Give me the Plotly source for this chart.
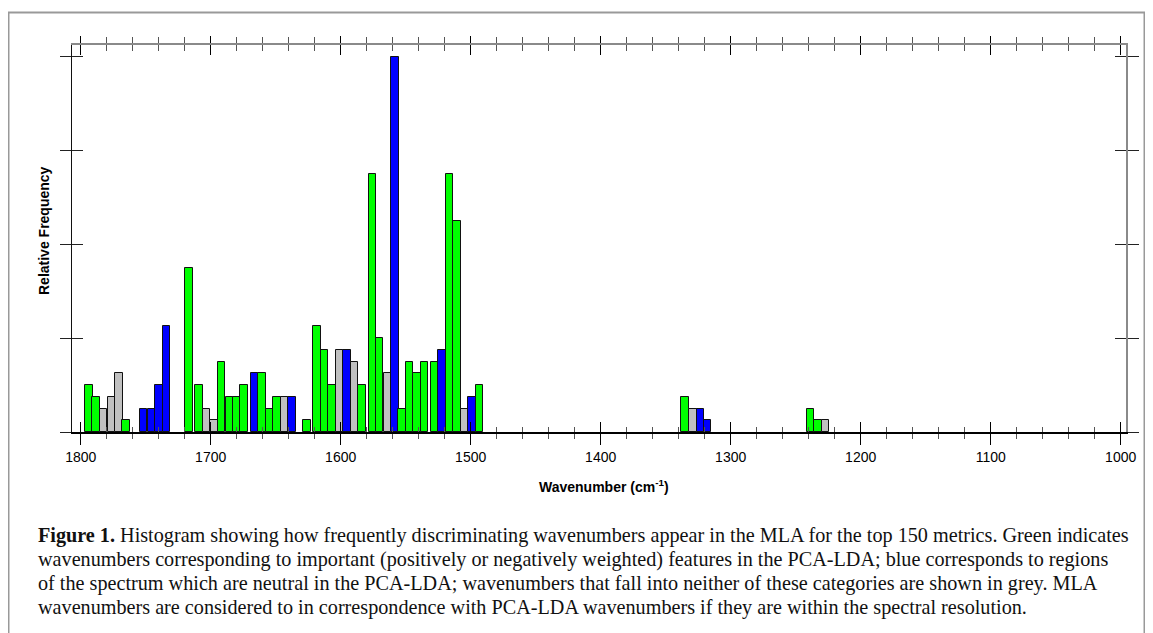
import plotly.graph_objects as go

# ---------------- data ----------------
wavenumber = [1793.8, 1788.1, 1782.3, 1776.5, 1770.7, 1765.0,
              1751.5, 1745.7, 1739.9, 1734.1,
              1716.8, 1709.1, 1703.4, 1697.6, 1691.7, 1685.7, 1680.0, 1674.4,
              1666.5, 1660.7, 1654.9, 1649.1, 1643.2, 1637.3,
              1626.1, 1618.4, 1612.4, 1606.7, 1600.9, 1595.1, 1589.4, 1583.6,
              1575.6, 1570.0, 1564.2, 1558.4,
              1552.8, 1547.1, 1541.3, 1535.5,
              1527.8, 1522.1, 1516.3, 1510.5, 1504.8, 1499.0, 1493.1,
              1335.0, 1329.1, 1323.4, 1317.7,
              1238.6, 1232.8, 1227.1]
frequency = [4, 3, 2, 3, 5, 1,
             2, 2, 4, 9,
             14, 4, 2, 1, 6, 3, 3, 4,
             5, 5, 2, 3, 3, 3,
             1, 9, 7, 4, 7, 7, 6, 4,
             22, 8, 5, 32,
             2, 6, 5, 6,
             6, 7, 22, 18, 2, 3, 4,
             3, 2, 2, 1,
             2, 1, 1]
category = ["G", "G", "N", "N", "N", "G",
            "B", "B", "B", "B",
            "G", "G", "N", "N", "G", "G", "G", "G",
            "B", "G", "G", "G", "N", "B",
            "G", "G", "G", "G", "N", "B", "N", "G",
            "G", "G", "N", "B",
            "G", "G", "G", "G",
            "G", "B", "G", "G", "N", "B", "G",
            "G", "N", "B", "B",
            "G", "G", "N"]
x_tick_values = [1800, 1700, 1600, 1500, 1400, 1300, 1200, 1100, 1000]
x_tick_labels = ["1800", "1700", "1600", "1500", "1400", "1300", "1200", "1100", "1000"]
y_tick_values = [0, 8, 16, 24, 32]

caption_lines = [
    "<b>Figure 1.</b> Histogram showing how frequently discriminating wavenumbers appear in the MLA for the top 150 metrics. Green indicates",
    "wavenumbers corresponding to important (positively or negatively weighted) features in the PCA-LDA; blue corresponds to regions",
    "of the spectrum which are neutral in the PCA-LDA; wavenumbers that fall into neither of these categories are shown in grey. MLA",
    "wavenumbers are considered to in correspondence with PCA-LDA wavenumbers if they are within the spectral resolution.",
]

# ---------------- layout geometry ----------------
# the html page body has an 8px margin, so the figure starts at (8, 8) on screen
OFF = 8
W, H = 1153 - OFF, 633 - OFF
L, R, T, B = 72 - OFF, 27, 45 - OFF, 201
PW, PH = W - L - R, H - T - B


def px_x(px):
    """screen pixel x -> paper coordinate"""
    return (px - OFF - L) / PW


def px_y(py):
    """screen pixel y -> paper coordinate"""
    return (H - B - (py - OFF)) / PH


color_map = {"G": "#00FF00", "B": "#0000FF", "N": "#C0C0C0"}
bar_colors = [color_map[c] for c in category]

X_RANGE = [1806.7, 995.9]
Y_RANGE = [0, 33]

fig = go.Figure()
fig.add_trace(go.Bar(
    x=wavenumber, y=frequency, width=5.75,
    marker=dict(color=bar_colors, line=dict(color="#111111", width=1)),
    showlegend=False, hoverinfo="x+y",
))

# invisible helper traces so the overlay axes get drawn
for xa, ya in [("x2", "y"), ("x3", "y"), ("x4", "y"), ("x", "y2"), ("x", "y3"), ("x", "y4")]:
    fig.add_trace(go.Scatter(x=[1400], y=[-10], mode="markers", marker=dict(opacity=0),
                             xaxis=xa, yaxis=ya, showlegend=False, hoverinfo="skip"))

tickfont = dict(family="Liberation Sans, Arial, sans-serif", size=14, color="#000000")


def xax(ticks, ticklen, minorlen, side, **kw):
    d = dict(range=X_RANGE, autorange=False, tickmode="array", tickvals=x_tick_values,
             ticktext=x_tick_labels, ticks=ticks, ticklen=ticklen, tickwidth=1,
             tickcolor="#000000", showgrid=False, zeroline=False, side=side,
             minor=dict(tick0=1000, dtick=20, ticks=ticks, ticklen=minorlen,
                        tickwidth=1, tickcolor="#555555", showgrid=False))
    d.update(kw)
    return d


def yax(ticks, ticklen, side, **kw):
    d = dict(range=Y_RANGE, autorange=False, tickmode="array", tickvals=y_tick_values,
             ticks=ticks, ticklen=ticklen, tickwidth=1, tickcolor="#222222",
             showgrid=False, zeroline=False, showticklabels=False, side=side)
    d.update(kw)
    return d


fig.update_layout(
    width=W, height=H,
    margin=dict(l=L, r=R, t=T, b=B, pad=0),
    paper_bgcolor="white", plot_bgcolor="white",
    bargap=0, barmode="overlay",
    xaxis=xax("outside", 11, 5, "bottom", showline=True, linecolor="#000000", linewidth=2,
              showticklabels=True, tickfont=tickfont, anchor="y"),
    xaxis2=xax("inside", 10, 5, "bottom", overlaying="x", anchor="y", showline=False,
               showticklabels=False),
    xaxis3=xax("outside", 7, 6, "top", overlaying="x", anchor="y", showline=True,
               linecolor="#8a8a8a", linewidth=1.5, showticklabels=False),
    xaxis4=xax("inside", 10, 6, "top", overlaying="x", anchor="y", showline=False,
               showticklabels=False),
    yaxis=yax("outside", 11, "left", showline=True, linecolor="#111111", linewidth=1, anchor="x"),
    yaxis2=yax("inside", 11, "left", overlaying="y", anchor="x", showline=False),
    yaxis3=yax("outside", 11, "right", overlaying="y", anchor="x", showline=True,
               linecolor="#8a8a8a", linewidth=1.5),
    yaxis4=yax("inside", 11, "right", overlaying="y", anchor="x", showline=False),
)

annotations = [
    dict(text="<b>Wavenumber (cm<sup>-1</sup>)</b>", xref="paper", yref="paper",
         x=px_x(604), y=px_y(486), xanchor="center", yanchor="middle", showarrow=False,
         font=dict(family="Liberation Sans, Arial, sans-serif", size=14, color="#000000")),
    dict(text="<b>Relative Frequency</b>", xref="paper", yref="paper",
         x=px_x(44), y=px_y(231), xanchor="center", yanchor="middle", showarrow=False,
         textangle=-90,
         font=dict(family="Liberation Sans, Arial, sans-serif", size=14, color="#000000")),
]
caption_y = [535, 559, 583, 607]
for line, cy in zip(caption_lines, caption_y):
    annotations.append(dict(
        text=line, xref="paper", yref="paper", x=px_x(36), y=px_y(cy),
        xanchor="left", yanchor="middle", showarrow=False, align="left",
        font=dict(family="Liberation Serif, Times New Roman, serif", size=20.2, color="#111111")))
fig.update_layout(annotations=annotations)

fig.add_shape(type="rect", xref="paper", yref="paper",
              x0=px_x(8.5), x1=px_x(1144.5), y0=px_y(660), y1=px_y(12.5),
              line=dict(color="#999999", width=2), fillcolor="rgba(0,0,0,0)", layer="below")

fig.write_html("out.html")
